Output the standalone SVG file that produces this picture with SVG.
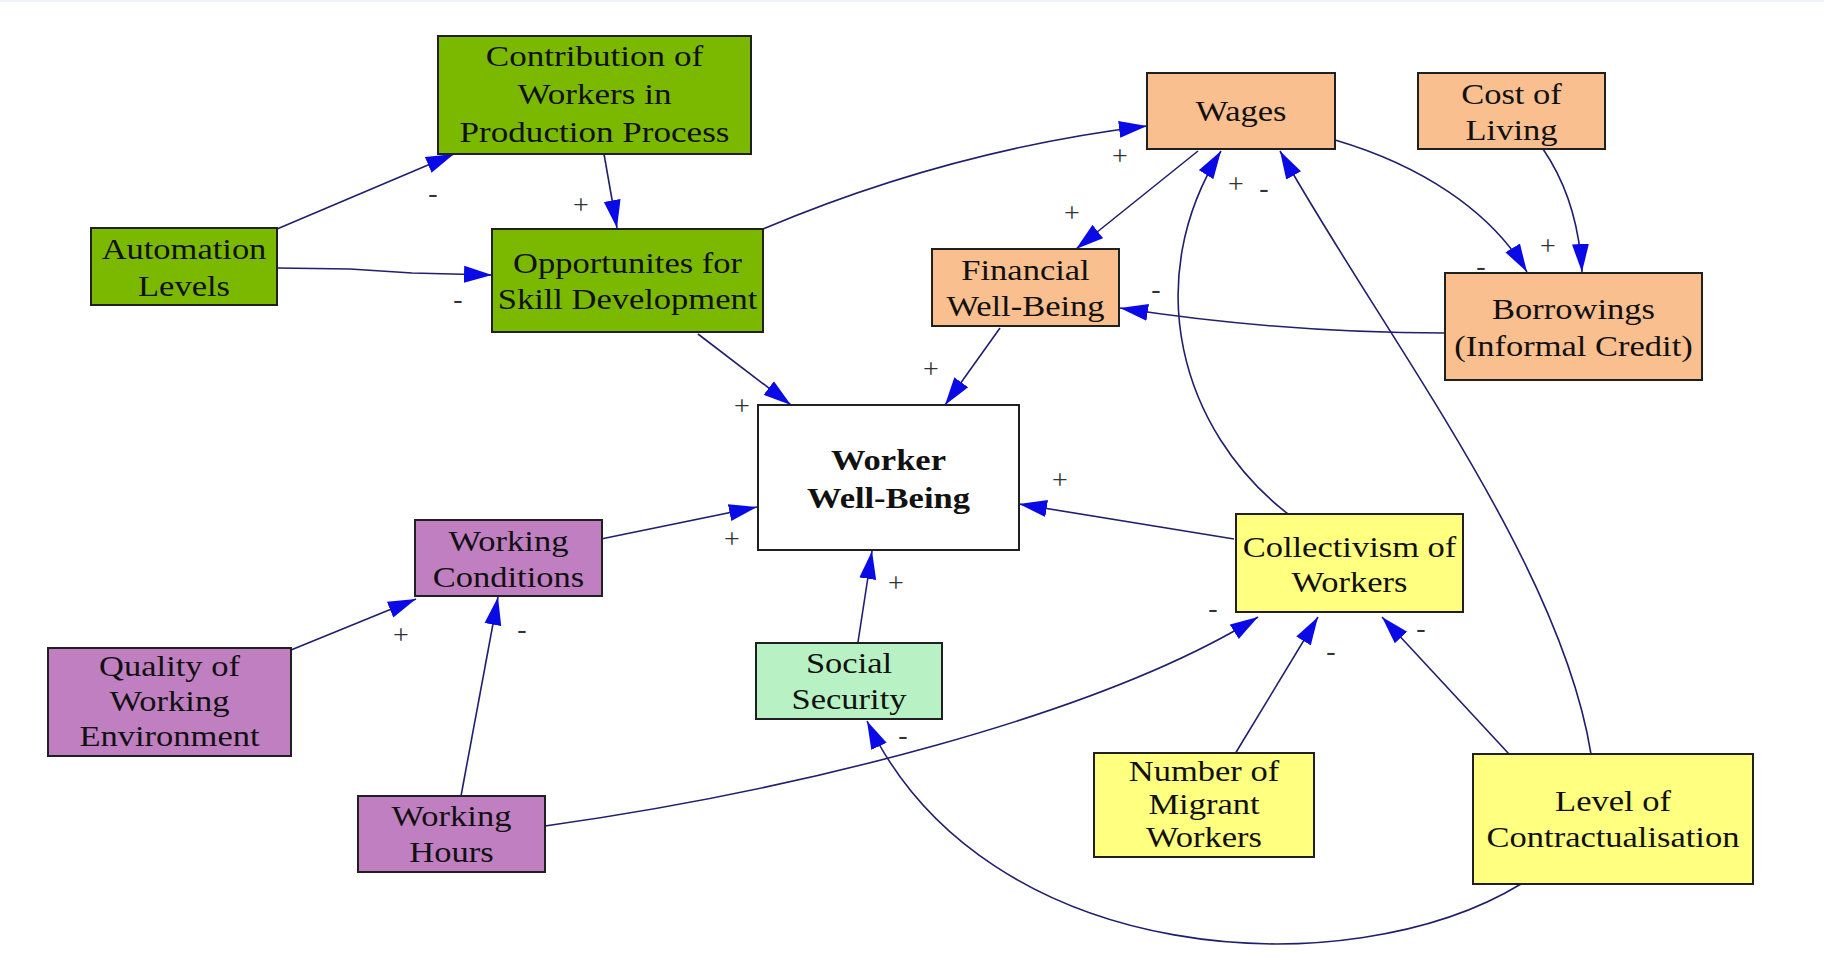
<svg xmlns="http://www.w3.org/2000/svg" width="1824" height="972" viewBox="0 0 1824 972">
<style>
.n{stroke:#202020;stroke-width:2}
.green{fill:#7bb800}
.orange{fill:#f9bf8f}
.purple{fill:#c07fc0}
.mint{fill:#b8f2c4}
.yellow{fill:#ffff80}
.white{fill:#ffffff}
.t{font-family:"Liberation Serif","Times New Roman",serif;font-size:30px;fill:#111111;text-anchor:middle}
.b{font-weight:bold}
.lbl{font-family:"Liberation Serif","Times New Roman",serif;font-size:28px;fill:#333333;text-anchor:middle}
.c{fill:none;stroke:#1f1f6e;stroke-width:1.6;marker-end:url(#ah)}
</style>
<defs>
<marker id="ah" markerUnits="userSpaceOnUse" markerWidth="28" markerHeight="18" refX="28" refY="9" orient="auto">
<path d="M0,0.5 L28,9 L0,17.5 Z" fill="#0a0ae6"/>
</marker>
</defs>
<rect x="0" y="0" width="1824" height="972" fill="#ffffff"/>
<rect x="0" y="0" width="1824" height="2" fill="#eef3f8"/>

<g id="connectors">
<path class="c" d="M277,229 L454,154"/>
<path class="c" d="M277,268 L350,269 L412,273 L492,275"/>
<path class="c" d="M604,154 L617,228"/>
<path class="c" d="M763,229 Q950,150 1147,126"/>
<path class="c" d="M698,334 L791,405"/>
<path class="c" d="M1198,151 L1076,249"/>
<path class="c" d="M1000,328 L945,405"/>
<path class="c" d="M1335,140 C1420,165 1490,210 1527,272"/>
<path class="c" d="M1543,149 Q1578,200 1582,272"/>
<path class="c" d="M1445,333 C1330,333 1230,325 1120,308"/>
<path class="c" d="M1288,514 C1180,430 1140,280 1221,151"/>
<path class="c" d="M1591,754 C1560,560 1380,330 1280,151"/>
<path class="c" d="M1234,539 L1019,504"/>
<path class="c" d="M601,539 L757,507"/>
<path class="c" d="M291,650 L416,599"/>
<path class="c" d="M461,796 L498,597"/>
<path class="c" d="M858,642 L872,551"/>
<path class="c" d="M545,826 C800,790 1100,715 1258,617"/>
<path class="c" d="M1235,754 L1318,617"/>
<path class="c" d="M1509,754 L1382,617"/>
<path class="c" d="M1521,884 C1350,988 985,970 867,721"/>
</g>

<g id="labels">
<text class="lbl" x="433" y="202">-</text>
<text class="lbl" x="458" y="308">-</text>
<text class="lbl" x="581" y="214">+</text>
<text class="lbl" x="1120" y="165">+</text>
<text class="lbl" x="742" y="415">+</text>
<text class="lbl" x="1072" y="222">+</text>
<text class="lbl" x="931" y="378">+</text>
<text class="lbl" x="1481" y="275">-</text>
<text class="lbl" x="1548" y="255">+</text>
<text class="lbl" x="1156" y="298">-</text>
<text class="lbl" x="1236" y="193">+</text>
<text class="lbl" x="1264" y="197">-</text>
<text class="lbl" x="1060" y="489">+</text>
<text class="lbl" x="732" y="548">+</text>
<text class="lbl" x="401" y="644">+</text>
<text class="lbl" x="522" y="638">-</text>
<text class="lbl" x="896" y="592">+</text>
<text class="lbl" x="1213" y="617">-</text>
<text class="lbl" x="1331" y="660">-</text>
<text class="lbl" x="1421" y="637">-</text>
<text class="lbl" x="903" y="744">-</text>
</g>

<g id="contrib">
<rect class="n green" x="438" y="36" width="313" height="118"/>
<text class="t" transform="translate(594.5,0) scale(1.17,1)"><tspan x="0" y="66">Contribution of</tspan><tspan x="0" y="104">Workers in</tspan><tspan x="0" y="142">Production Process</tspan></text>
</g>
<g id="automation">
<rect class="n green" x="91" y="228" width="186" height="77"/>
<text class="t" transform="translate(184,0) scale(1.15,1)"><tspan x="0" y="259">Automation</tspan><tspan x="0" y="296">Levels</tspan></text>
</g>
<g id="opportunities">
<rect class="n green" x="492" y="229" width="271" height="103"/>
<text class="t" transform="translate(627.5,0) scale(1.15,1)"><tspan x="0" y="273">Opportunites for</tspan><tspan x="0" y="309">Skill Development</tspan></text>
</g>
<g id="wages">
<rect class="n orange" x="1147" y="73" width="188" height="76"/>
<text class="t" transform="translate(1241,0) scale(1.15,1)"><tspan x="0" y="121">Wages</tspan></text>
</g>
<g id="cost">
<rect class="n orange" x="1418" y="73" width="187" height="76"/>
<text class="t" transform="translate(1511.5,0) scale(1.15,1)"><tspan x="0" y="104">Cost of</tspan><tspan x="0" y="140">Living</tspan></text>
</g>
<g id="borrowings">
<rect class="n orange" x="1445" y="273" width="257" height="107"/>
<text class="t" transform="translate(1573.5,0) scale(1.15,1)"><tspan x="0" y="319">Borrowings</tspan><tspan x="0" y="356">(Informal Credit)</tspan></text>
</g>
<g id="financial">
<rect class="n orange" x="932" y="249" width="187" height="77"/>
<text class="t" transform="translate(1025.5,0) scale(1.15,1)"><tspan x="0" y="280">Financial</tspan><tspan x="0" y="316">Well-Being</tspan></text>
</g>
<g id="worker">
<rect class="n white" x="758" y="405" width="261" height="145"/>
<text class="t b" transform="translate(888.5,0) scale(1.15,1)"><tspan x="0" y="470">Worker</tspan><tspan x="0" y="508">Well-Being</tspan></text>
</g>
<g id="conditions">
<rect class="n purple" x="415" y="520" width="187" height="76"/>
<text class="t" transform="translate(508.5,0) scale(1.15,1)"><tspan x="0" y="551">Working</tspan><tspan x="0" y="587">Conditions</tspan></text>
</g>
<g id="quality">
<rect class="n purple" x="48" y="648" width="243" height="108"/>
<text class="t" transform="translate(169.5,0) scale(1.15,1)"><tspan x="0" y="676">Quality of</tspan><tspan x="0" y="711">Working</tspan><tspan x="0" y="746">Environment</tspan></text>
</g>
<g id="hours">
<rect class="n purple" x="358" y="796" width="187" height="76"/>
<text class="t" transform="translate(451.5,0) scale(1.15,1)"><tspan x="0" y="826">Working</tspan><tspan x="0" y="862">Hours</tspan></text>
</g>
<g id="social">
<rect class="n mint" x="756" y="643" width="186" height="76"/>
<text class="t" transform="translate(849,0) scale(1.15,1)"><tspan x="0" y="673">Social</tspan><tspan x="0" y="709">Security</tspan></text>
</g>
<g id="collectivism">
<rect class="n yellow" x="1236" y="514" width="227" height="98"/>
<text class="t" transform="translate(1349.5,0) scale(1.15,1)"><tspan x="0" y="557">Collectivism of</tspan><tspan x="0" y="592">Workers</tspan></text>
</g>
<g id="migrant">
<rect class="n yellow" x="1094" y="753" width="220" height="104"/>
<text class="t" transform="translate(1204,0) scale(1.15,1)"><tspan x="0" y="781">Number of</tspan><tspan x="0" y="814">Migrant</tspan><tspan x="0" y="847">Workers</tspan></text>
</g>
<g id="contract">
<rect class="n yellow" x="1473" y="754" width="280" height="130"/>
<text class="t" transform="translate(1613,0) scale(1.15,1)"><tspan x="0" y="811">Level of</tspan><tspan x="0" y="847">Contractualisation</tspan></text>
</g>
</svg>
